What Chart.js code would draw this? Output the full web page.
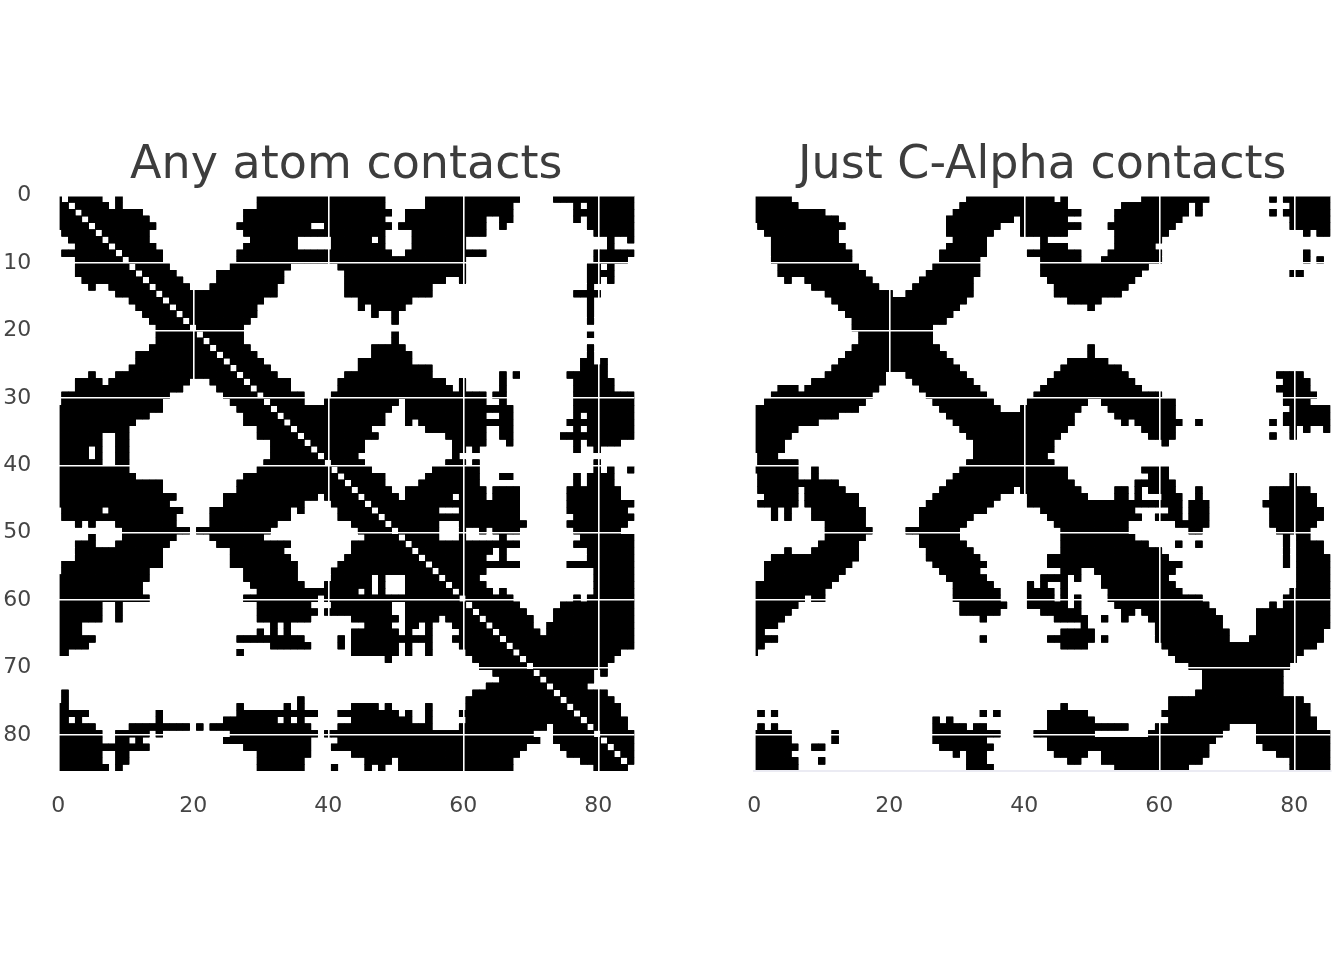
<!DOCTYPE html>
<html><head><meta charset="utf-8">
<style>html,body{margin:0;padding:0;background:#fff;width:1344px;height:960px;overflow:hidden}canvas{position:absolute;top:0;filter:blur(0.45px)}</style>
<script src="https://cdn.jsdelivr.net/npm/chart.js@4"></script></head>
<body><canvas id="a" width="672" height="960" style="left:0;width:672px;height:960px"></canvas>
<canvas id="b" width="672" height="960" style="left:672px;width:672px;height:960px"></canvas>
<script>
const xTickStep = 20, yTickStep = 10;
const titles = ["Any atom contacts", "Just C-Alpha contacts"];
// contact runs for residue i against residues j >= i; the map is symmetric
const anyAtomRuns = [
"1-5 32-46 57-68 76-85",
"2-6 9 30-48 55-68 74-85","3-7 9 30-48 55-67 77 79-85","4-12 28-49 52-67 77-85","5-13 28-48 52-63 66-67 77 79-85",
"6-14 27-37 40-49 51-63 66 79-85","7-13 28-48 53-63 80-85","8-13 29-35 41-46 48 53-60 82 85","9-14 28-35 41-48 53-60 82",
"10-15 27-49 52-63 80-85","11-15 27-60 80-84","12-16 26-34 42-60 79-80 82","13-17 24-33 43-60 79-82","14-18 24-33 43-57 60 79-80 82",
"15-19 23-32 43-55 79","16-32 43-55 77-80","17-30 45-52 79","18-29 45 47-51 79","19-29 47 50 79","20-28 50 79","21-27","22-27 50 79","23-27 50",
"24-28 47-51 79","25-29 47-52 79","26-30 45-52 78-79 81","27-31 45-55 78-81","28-32 43-55 66 68 76-81","29-34 42-57 60 66 77-82","30-34 42-58 60 66 77-82",
"31-36 41-63 65-66 77-85","32-36 40-50 52-63 66 77-85","33-49 52-67 77-85","34-48 52-63 66-67 77 79-85","35-48 52 54-67 76-85","36-46 55-63 66-67 77 79-85",
"37-47 58-63 66-67 75-85","38-45 59-63 67 77 79-83","39-45 59-60 62 77 80","40-44 59","41-45 58-60 62 80","42-46 56-62 80 82 85","43-48 55-62 66-67 77 79-82",
"44-48 54-62 77 79-82","45-49 52-63 65-68 76-83","46-50 52-58 60-63 65-68 76-83","47-68 76-85","48-56 60-68 76-84","49-68 77-85","50-56 60-69 76-84",
"51-56 60 63 65-68 77-83","52-56 60 66 78-85","53-68 77-85","54-64 66 79-85","55-63 66 79-85","56-68 76-85","57-63 80-85","58-62 80-85","59-63 80-85",
"60-64 66 80-85","61-67 77 79-85","62-68 75-85","63-69 74-85","64-70 74-85","65-70 73-85","66-71 73-85","67-85","68-85","69-83","70-82","71-81","72-79 81",
"73-79","74-78","75-81","76-82","77-83","78-83","79-84","80-84","81-85","82-85","83-85","84-85","85",""];
const cAlphaRuns = [
"1-4 32-38 41 58-68 80-85",
"1-5 32-44 46 58-67 77 79-85","2-6 31-46 55-64 66 80-85","3-10 30-48 54-64 66 77 79-85","4-12 29-38 40-46 54-63 80-85","5-13 29-36 40-48 53-62 80-85",
"6-12 29-35 40-46 54-61 82 84-85","7-12 30-34 43 54-60","8-13 29-34 43-46 54-59","9-14 28-34 41-48 53-60 82","10-14 28-33 43-48 52-60 82 84","11-15 27-33 43-58",
"12-16 26-33 43-57 80-81","13-17 25-32 44-56","14-18 24-32 45-55","15-20 23-32 45-54","16-31 47-51","17-30 50","18-29","19-28","20-26","21-26","22-26","23-27 50","24-28 50",
"25-29 47-52","26-30 46-54","27-31 45-55 78-81","28-32 44-56 79-82","29-33 43-57 78-82","30-34 42-60 79-83","31-35 41-49 52-62 79-82","32-36 40-48 53-62 80-85",
"33-47 54-62 79-85","34-47 55 57-63 66 77 79-85","35-46 58-62 80 82 85","36-45 59-62 77 80","37-44 61","38-44","39-43","40-44","41-46 58-61","42-46 59-61 80","43-47 57-62 80",
"44-48 54-55 57 59-62 66 77-82","45-49 54-55 57 61-63 66 77-83","46-63 65-67 76-83","47-56 62-63 65-67 77-84","48-57 60-63 65-67 77-84","49-55 63-67 77-83","50-55 65-66 78-82",
"51-56 79 81-82","52-58 63 66 79 81-84","53-60 79 81-84","54-61 79 81-85","55-63 79 81-85","56-62 81-85","57-61 81-85","58-62 81-85","59-63 80-85","60-66 79-85","61-67 77 79-85",
"62-68 75-85","63-69 75-85","64-69 75-85","65-70 75-84","66-70 74-84","67-83","68-81","69-80","70-79","71-78","72-78","73-78","74-78","75-81","76-82","77-82","78-83","79-83","80-85","81-85","82-85","83-85","84-85","85"];

const rowStep = 85.35 / 85, colStep = 0.998;
function cells(runs) {
  const seen = new Set(), pts = [];
  const add = (r, c) => { const k = r + "," + c; if (!seen.has(k)) { seen.add(k); if (r > 0) pts.push({x: c * colStep, y: (r - 0.5) * rowStep}); } };
  runs.forEach((line, r) => {
    line.split(" ").filter(Boolean).forEach(tok => {
      const [a, b] = tok.split("-").map(Number);
      for (let c = a; c <= (b === undefined ? a : b); c++) { add(r, c); add(c, r); }
    });
  });
  return pts;
}
function panel(id, title, runs, leftPx, showY, rule) {
  const points = cells(runs);
  const layer = () => ({data: points, pointStyle: "rect", pointRadius: 5.0, pointHoverRadius: 5.0,
      pointBackgroundColor: "#000", pointBorderWidth: 0, showLine: false, clip: 0});
  new Chart(document.getElementById(id), {
    type: "scatter",
    data: {datasets: [layer(), layer(), layer()]},
    options: {
      responsive: false, animation: false, devicePixelRatio: 1, parsing: false, normalized: true, events: [],
      layout: {padding: {left: 0, right: 672 - leftPx - 576, top: 0, bottom: 0}},
      plugins: {legend: {display: false}, tooltip: {enabled: false},
        title: {display: true, text: title, fullSize: false, color: "#3d3d3d", font: {family: "DejaVu Sans", size: 46, weight: "normal", lineHeight: 1.2},
          padding: {top: 138.5, bottom: 2}}},
      scales: {
        x: {type: "linear", min: 0, max: 85.33, ticks: {stepSize: xTickStep, includeBounds: false, color: "#454545", font: {family: "DejaVu Sans", size: 22}, padding: 22, maxRotation: 0},
          grid: {color: "#ffffff", lineWidth: 1.6, z: 1, drawTicks: false}, border: rule ? {display: true, color: "#ebebf3", width: 2, z: 2} : {display: false},
          afterFit: s => { s.height = 189; }},
        y: {type: "linear", reverse: true, min: 0, max: 85.35, ticks: {display: showY, stepSize: yTickStep, includeBounds: false, color: "#454545", font: {family: "DejaVu Sans", size: 22}, padding: 27},
          grid: {color: "#ffffff", lineWidth: 1.6, z: 1, drawTicks: false}, border: {display: false},
          afterFit: s => { s.width = leftPx; }}
      }
    }
  });
}
panel("a", titles[0], anyAtomRuns, 58.3, true, false);
panel("b", titles[1], cAlphaRuns, 82.3, false, true);
</script></body></html>
